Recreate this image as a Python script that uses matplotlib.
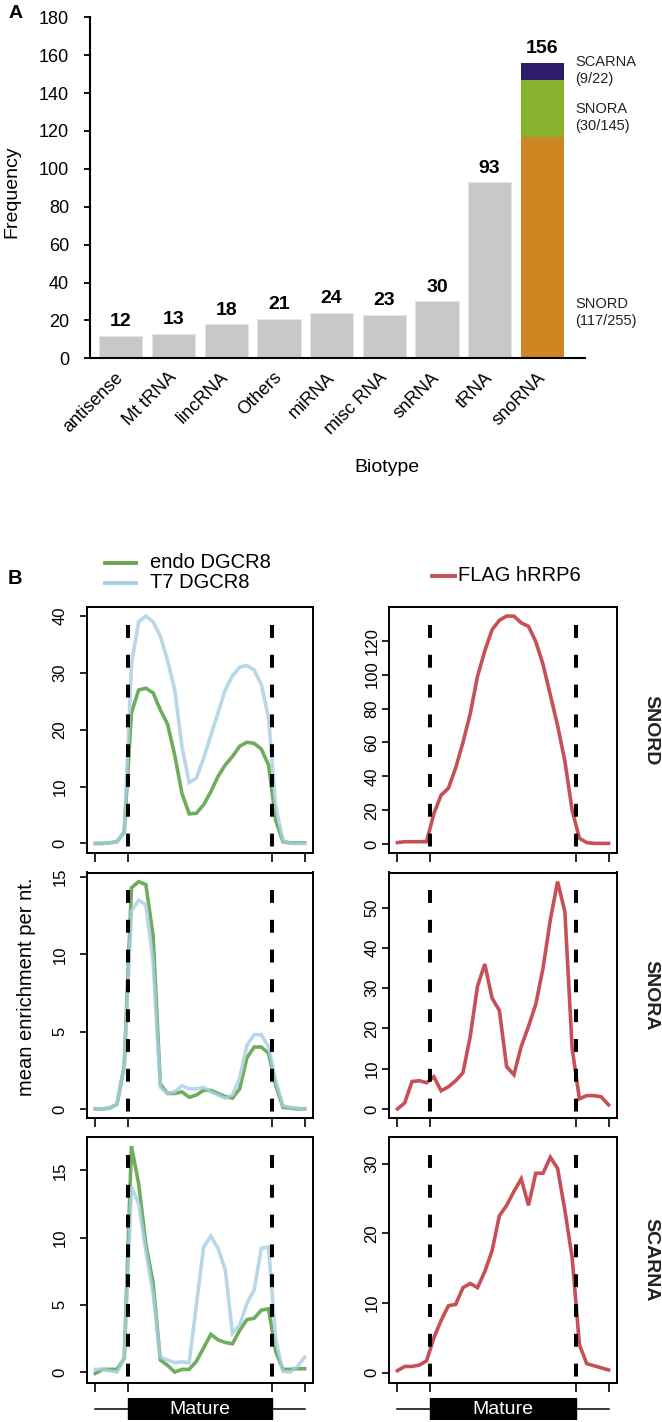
"""
Biotype counts (A) and metagene enrichment profiles over snoRNA classes (B)
"""

import numpy as np
import matplotlib
matplotlib.use("Agg")
import matplotlib.pyplot as plt
from matplotlib.lines import Line2D
from matplotlib.patches import Rectangle

plt.rcParams['font.family'] = ['Liberation Sans', 'DejaVu Sans']

# ---- panel A data ----
biotypes = ['antisense', 'Mt tRNA', 'lincRNA', 'Others', 'miRNA',
            'misc RNA', 'snRNA', 'tRNA', 'snoRNA']
counts = [12, 13, 18, 21, 24, 23, 30, 93]          # grey bars
sno_classes = ['SNORD', 'SNORA', 'SCARNA']
sno_counts = [117, 30, 9]
sno_totals = [255, 145, 22]
sno_colors = ['#cf8522', '#87b22e', '#2e1c6b']
sno_label_y = [24, 127, 152]

# ---- panel B data (30 bins: 5 flank, 20 mature, 5 flank) ----
n_flank, n_mature = 5, 20
snord_endo = [0, 0, 0.1, 0.3, 2, 23, 27, 27.3, 26.5, 23.5, 21, 15.5, 8.8, 5.2, 5.3,
              6.8, 9.1, 11.8, 13.8, 15.3, 17.1, 17.8, 17.6, 16.6, 13.8, 4, 0.3, 0.1, 0.1, 0.1]
snord_t7 = [0, 0, 0.1, 0.3, 2, 31.5, 39, 40, 39, 36.5, 32.2, 27, 17, 10.7, 11.5,
            15, 19, 23, 27, 29.5, 31, 31.3, 30.5, 28, 22, 6.5, 0.5, 0, 0, 0]
snord_rrp6 = [1, 1.5, 1.5, 1.5, 1.5, 18, 29, 33, 45, 60, 77, 99, 114, 126.5, 132,
              134.5, 134.5, 130.5, 128.5, 119.5, 106, 88, 70, 49, 20, 3.5, 1, 0.5, 0.5, 0.5]

snora_endo = [0, 0, 0.05, 0.3, 2.8, 14.3, 14.7, 14.5, 11.2, 1.6, 1.0, 1.0, 1.1, 0.75, 0.9,
              1.2, 1.2, 1.0, 0.8, 0.7, 1.3, 3.3, 4.0, 4.0, 3.6, 1.5, 0.1, 0.05, 0, 0]
snora_t7 = [0, 0, 0.05, 0.3, 2.8, 12.8, 13.5, 13.2, 9.5, 1.4, 1.0, 1.1, 1.5, 1.3, 1.3,
            1.4, 1.1, 0.9, 0.7, 0.9, 2.0, 4.1, 4.8, 4.8, 4.0, 1.8, 0.2, 0.1, 0.05, 0]
snora_rrp6 = [0, 1.5, 6.8, 7.0, 6.5, 8.0, 4.5, 5.5, 7.0, 9.0, 18, 30.5, 36, 27.5, 24.5,
              10.5, 8.5, 15.5, 20.5, 26, 35, 47, 56.5, 49, 15, 2.5, 3.3, 3.3, 3.0, 1.0]

scarna_endo = [-0.1, 0.2, 0.2, 0.2, 1.0, 16.8, 14.0, 9.5, 6.6, 0.9, 0.5, 0.0, 0.2, 0.2, 0.8,
               1.8, 2.8, 2.4, 2.2, 2.1, 3.1, 3.9, 4.0, 4.6, 4.7, 1.5, 0.2, 0.2, 0.25, 0.25]
scarna_t7 = [0.2, 0.2, 0.1, 0.0, 1.0, 13.8, 12.5, 9.0, 5.8, 1.1, 0.9, 0.7, 0.75, 0.7, 5.0,
             9.3, 10.1, 9.2, 7.6, 2.9, 3.5, 5.1, 6.1, 9.2, 9.3, 2.4, 0.05, 0.0, 0.4, 1.1]
scarna_rrp6 = [0.3, 0.9, 0.9, 1.1, 1.7, 5.0, 7.5, 9.6, 9.8, 12.2, 12.8, 12.2, 14.5, 17.5, 22.5,
               24.0, 26.0, 27.8, 24.0, 28.6, 28.6, 30.9, 29.3, 23.3, 16.5, 4.0, 1.3, 1.0, 0.7, 0.4]

row_names = ['SNORD', 'SNORA', 'SCARNA']
left_ticks = [[0, 10, 20, 30, 40], [0, 5, 10, 15], [0, 5, 10, 15]]
right_ticks = [[0, 20, 40, 60, 80, 100, 120], [0, 10, 20, 30, 40, 50], [0, 10, 20, 30]]

c_endo = '#67a954'
c_t7 = '#a6cee3'
c_rrp6 = '#c75056'

W, H = 662, 1422
fig = plt.figure(figsize=(W / 100, H / 100), dpi=100)


def fx(px):
    return px / W


def fy(py):
    return 1 - py / H


# ================= panel A =================
axA = fig.add_axes([fx(90), fy(358.3), fx(495), 341 / H])
pos = np.arange(len(biotypes))
axA.bar(pos[:len(counts)], counts, width=0.82, color='#c8c8c8',
        edgecolor='#e6e6e6', linewidth=0.6, zorder=2)
bottom = 0
for v, c in zip(sno_counts, sno_colors):
    axA.bar(pos[-1], v, width=0.82, bottom=bottom, color=c, linewidth=0, zorder=2)
    bottom += v
heights = counts + [sum(sno_counts)]
for p, v in zip(pos, heights):
    axA.annotate(str(v), (p, v), xytext=(0, 4), textcoords='offset points',
                 ha='center', va='bottom', fontsize=14, fontweight='bold')
for name, n, tot, yl in zip(sno_classes, sno_counts, sno_totals, sno_label_y):
    axA.text(pos[-1] + 0.63, yl, '{}\n({}/{})'.format(name, n, tot), ha='left',
             va='center', fontsize=10.5, linespacing=1.3, color='#222222', clip_on=False)

axA.set_xlim(-0.586, 8.81)
axA.set_ylim(0, 180)
axA.set_yticks(np.arange(0, 181, 20))
axA.set_xticks(pos)
axA.set_xticklabels(biotypes, rotation=45, ha='right', va='center',
                    rotation_mode='anchor')
axA.tick_params(axis='y', length=4.6, width=1.3, pad=10.5, labelsize=13)
axA.tick_params(axis='x', length=0, pad=12, labelsize=13)
for s in ['top', 'right']:
    axA.spines[s].set_visible(False)
for s in ['left', 'bottom']:
    axA.spines[s].set_linewidth(1.5)
fig.text(fx(11.5), fy(192), 'Frequency', rotation=90, ha='center', va='center', fontsize=14)
fig.text(fx(387), fy(468), 'Biotype', ha='center', va='center', fontsize=14)
fig.text(fx(16), fy(14), 'A', ha='center', va='center', fontsize=14, fontweight='bold')

# ================= panel B =================
bins = np.arange(2 * n_flank + n_mature)
b_start = n_flank - 0.5
b_end = n_flank + n_mature - 0.5

row_tops = [607, 872.5, 1137]
row_h = 245.5
col_left = [(87, 226), (389, 228)]

profiles = [
    ([snord_endo, snord_t7], [snord_rrp6]),
    ([snora_endo, snora_t7], [snora_rrp6]),
    ([scarna_endo, scarna_t7], [scarna_rrp6]),
]
ylim_override = {(2, 1): (-1.4, 33.8)}


def profile_panel(ax, series, colors, alphas, yticks, pad, ylim=None):
    for y, c, a in zip(series, colors, alphas):
        ax.plot(bins, y, color=c, lw=2.6, alpha=a, solid_joinstyle='miter', zorder=2)
    if ylim is None:
        lo = min(min(y) for y in series)
        hi = max(max(y) for y in series)
        r = hi - lo
        ylim = (lo - 0.04 * r, hi + 0.04 * r)
    ax.set_ylim(*ylim)
    r = bins[-1] - bins[0]
    ax.set_xlim(bins[0] - 0.04 * r, bins[-1] + 0.04 * r)
    for xb in (b_start, b_end):
        ax.plot([xb, xb], [0.928, -0.037], transform=ax.get_xaxis_transform(),
                color='black', lw=2.9, linestyle=(0, (3.2, 4.2)), clip_on=False, zorder=3)
    ax.set_yticks(yticks)
    ax.set_xticks([bins[0], b_start, b_end, bins[-1]])
    ax.set_xticklabels([])
    ax.tick_params(axis='y', length=5, width=1.2, pad=pad, labelsize=12)
    ax.tick_params(axis='x', length=6.5, width=1.2)
    for lab in ax.get_yticklabels():
        lab.set_rotation(90)
        lab.set_va('center')
    for s in ax.spines.values():
        s.set_linewidth(1.4)


for i, (dg, rr) in enumerate(profiles):
    top = row_tops[i]
    for j, (lpx, wpx) in enumerate(col_left):
        ax = fig.add_axes([fx(lpx), fy(top + row_h), fx(wpx), row_h / H])
        if j == 0:
            profile_panel(ax, dg, [c_endo, c_t7], [0.95, 0.8], left_ticks[i], 9.0)
        else:
            profile_panel(ax, rr, [c_rrp6], [1.0], right_ticks[i], 2.0,
                          ylim_override.get((i, j)))
    fig.text(fx(651), fy(top + row_h / 2), row_names[i], rotation=270,
             ha='center', va='center', fontsize=14, fontweight='bold', color='#222222')

# mature bars under the bottom row
for lpx, wpx in col_left:
    axm = fig.add_axes([fx(lpx), fy(1420), fx(wpx), 22 / H])
    r = bins[-1] - bins[0]
    axm.set_xlim(bins[0] - 0.04 * r, bins[-1] + 0.04 * r)
    axm.set_ylim(0, 1)
    axm.axis('off')
    axm.plot([bins[0], bins[-1]], [0.5, 0.5], color='black', lw=1.1)
    axm.add_patch(Rectangle((b_start, 0), b_end - b_start, 1, color='black'))
    axm.text((b_start + b_end) / 2, 0.5, 'Mature', color='white', ha='center',
             va='center', fontsize=14)

# legends
fig.add_artist(Line2D([fx(105), fx(136)], [fy(563), fy(563)], color=c_endo, lw=2.8))
fig.add_artist(Line2D([fx(105), fx(136)], [fy(583), fy(583)], color=c_t7, lw=2.8))
fig.text(fx(150), fy(562), 'endo DGCR8', va='center', fontsize=14.5)
fig.text(fx(150), fy(583), 'T7 DGCR8', va='center', fontsize=14.5)
fig.add_artist(Line2D([fx(432), fx(455)], [fy(576), fy(576)], color=c_rrp6, lw=2.8))
fig.text(fx(458), fy(576), 'FLAG hRRP6', va='center', fontsize=14.5)

fig.text(fx(15), fy(578), 'B', ha='center', va='center', fontsize=14.5, fontweight='bold')
fig.text(fx(27), fy(987), 'mean enrichment per nt.', rotation=90, ha='center',
         va='center', fontsize=14.5)

fig.savefig('out.png', dpi=100)
